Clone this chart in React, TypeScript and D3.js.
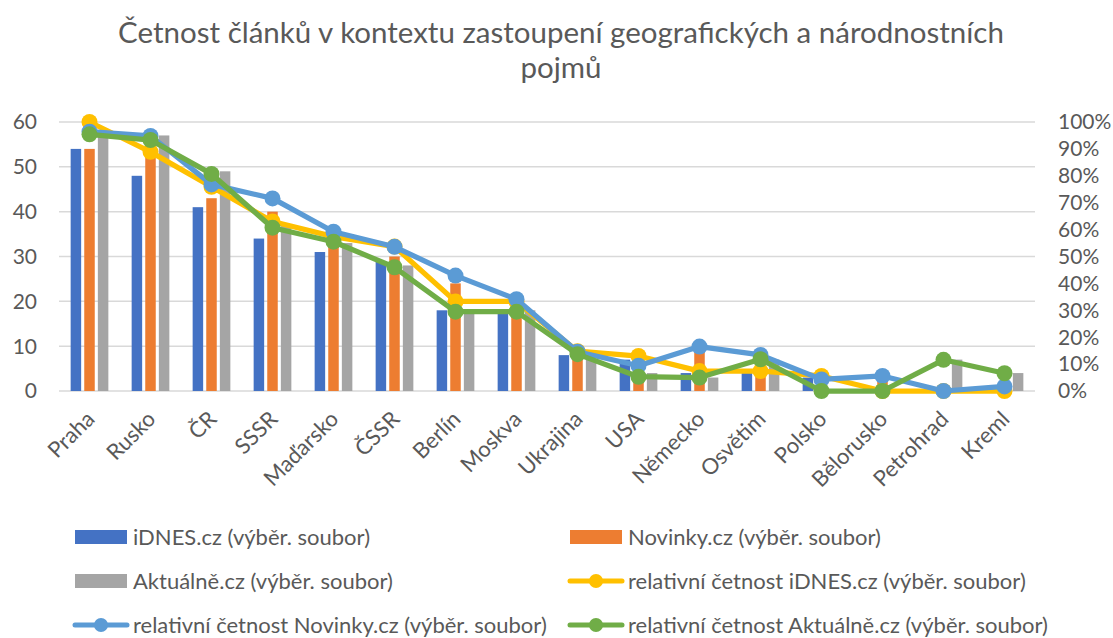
import React from "react";
import * as d3 from "d3";

const categories = ["Praha", "Rusko", "ČR", "SSSR", "Maďarsko", "ČSSR", "Berlín", "Moskva", "Ukrajina", "USA", "Německo", "Osvětim", "Polsko", "Bělorusko", "Petrohrad", "Kreml"];
const idnes = [54, 48, 41, 34, 31, 29, 18, 18, 8, 7, 4, 4, 3, 0, 0, 0];
const novinky = [54, 53, 43, 40, 34, 30, 24, 19, 9, 5, 10, 5, 2, 3, 0, 1];
const aktualne = [58, 57, 49, 37, 33, 28, 18, 18, 7, 4, 3, 7, 0, 0, 7, 4];
const relIdnes = [100, 88.9, 75.9, 63.0, 57.4, 53.7, 33.3, 33.3, 14.8, 13.0, 7.4, 7.4, 5.6, 0, 0, 0];
const relNovinky = [96.4, 94.8, 76.8, 71.6, 59.2, 53.6, 42.9, 34.1, 14.6, 9.4, 16.5, 13.4, 4.3, 5.6, 0, 1.7];
const relAktualne = [95.4, 93.3, 80.7, 60.7, 55.5, 46.0, 29.5, 29.5, 13.7, 5.3, 5.0, 11.8, 0, 0, 11.6, 6.6];
const leftTicks = [0, 10, 20, 30, 40, 50, 60];
const rightTicks = [0, 10, 20, 30, 40, 50, 60, 70, 80, 90, 100];
const titleLines = ["Četnost článků v kontextu zastoupení geografických a národnostních", "pojmů"];

const barSeries = [
  { name: "iDNES.cz (výběr. soubor)", values: idnes, color: "#4472C4" },
  { name: "Novinky.cz (výběr. soubor)", values: novinky, color: "#ED7D31" },
  { name: "Aktuálně.cz (výběr. soubor)", values: aktualne, color: "#A5A5A5" },
];
const lineSeries = [
  { name: "relativní četnost iDNES.cz (výběr. soubor)", values: relIdnes, color: "#FFC000" },
  { name: "relativní četnost Novinky.cz (výběr. soubor)", values: relNovinky, color: "#5B9BD5" },
  { name: "relativní četnost Aktuálně.cz (výběr. soubor)", values: relAktualne, color: "#70AD47" },
];

const W = 1113, H = 638;
const FONT = "Lato, 'Open Sans', sans-serif";
const TXT = "#595959";

export default function App() {
  const x0 = d3.scaleBand<string>().domain(categories).range([59, 1035]);
  const bw = x0.bandwidth();
  const x1 = d3.scaleBand<number>().domain([0, 1, 2]).range([bw / 2 - 18.85, bw / 2 + 18.85]).paddingInner(0.228);
  const yL = d3.scaleLinear().domain([0, 60]).range([391, 122]);
  const yR = d3.scaleLinear().domain([0, 100]).range([391, 122]);
  const cx = (c: string) => (x0(c) as number) + bw / 2;
  const line = d3.line<number>().x((_, i) => cx(categories[i])).y((v) => yR(v));

  const legendItems = [
    { ...barSeries[0], kind: "bar", x: 75, y: 537 },
    { ...barSeries[1], kind: "bar", x: 570, y: 537 },
    { ...barSeries[2], kind: "bar", x: 75, y: 581 },
    { ...lineSeries[0], kind: "line", x: 570, y: 581 },
    { ...lineSeries[1], kind: "line", x: 75, y: 625 },
    { ...lineSeries[2], kind: "line", x: 570, y: 625 },
  ];

  return (
    <svg width={W} height={H} style={{ position: "absolute", left: 0, top: 0, background: "#fff" }} fontFamily={FONT}>
      <rect width={W} height={H} fill="#fff" />
      {titleLines.map((t, i) => (
        <text key={i} x={561} y={43 + i * 35} textAnchor="middle" fontSize={29.5} fill={TXT}>{t}</text>
      ))}
      {leftTicks.map((t) => (
        <g key={t}>
          <line x1={59} x2={1035} y1={yL(t)} y2={yL(t)} stroke="#D9D9D9" strokeWidth={1.5} />
          <text x={37} y={yL(t)} dy="0.35em" textAnchor="end" fontSize={21} fill={TXT}>{t}</text>
        </g>
      ))}
      {rightTicks.map((t) => (
        <text key={t} x={1058} y={yR(t)} dy="0.35em" textAnchor="start" fontSize={21} fill={TXT}>{t}%</text>
      ))}
      {barSeries.map((s, si) => (
        <g key={s.name}>
          {s.values.map((v, i) => (
            <rect key={i} x={(x0(categories[i]) as number) + (x1(si) as number)} y={yL(v)} width={x1.bandwidth()} height={yL(0) - yL(v)} fill={s.color} />
          ))}
        </g>
      ))}
      {lineSeries.map((s) => (
        <g key={s.name}>
          <path d={line(s.values) || ""} fill="none" stroke={s.color} strokeWidth={5.25} strokeLinejoin="round" strokeLinecap="round" />
          {s.values.map((v, i) => (
            <circle key={i} cx={cx(categories[i])} cy={yR(v)} r={8} fill={s.color} />
          ))}
        </g>
      ))}
      {categories.map((c) => (
        <text key={c} transform={`translate(${cx(c) + 1},${415}) rotate(-45)`} dy="0.35em" textAnchor="end" fontSize={22} fill={TXT}>{c}</text>
      ))}
      {legendItems.map((it) => (
        <g key={it.name}>
          {it.kind === "bar" ? (
            <rect x={it.x} y={it.y - 7} width={52} height={14} fill={it.color} />
          ) : (
            <g>
              <line x1={it.x} x2={it.x + 52} y1={it.y} y2={it.y} stroke={it.color} strokeWidth={5} strokeLinecap="round" />
              <circle cx={it.x + 26} cy={it.y} r={7} fill={it.color} />
            </g>
          )}
          <text x={it.x + 58} y={it.y} dy="0.35em" fontSize={22} fill={TXT}>{it.name}</text>
        </g>
      ))}
    </svg>
  );
}
